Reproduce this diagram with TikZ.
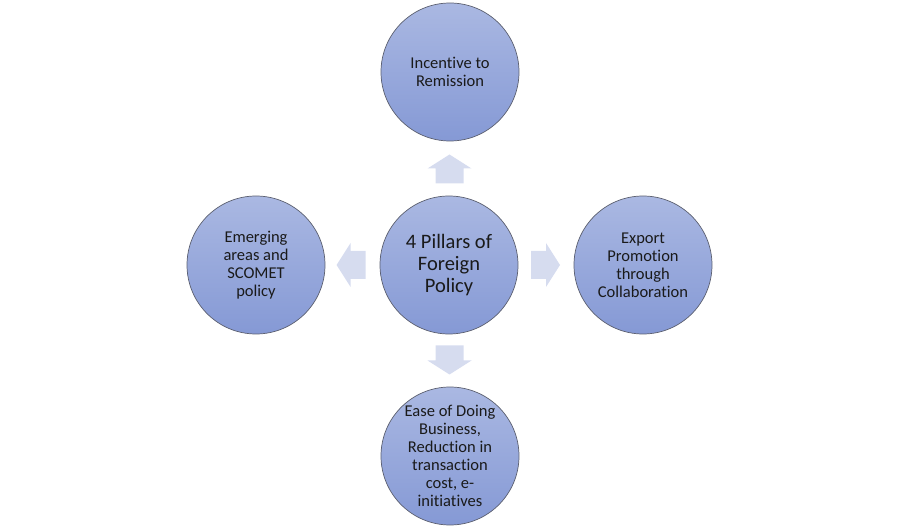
\documentclass[tikz,border=0pt]{standalone}
\usepackage{fontspec}
\setmainfont[Ligatures={NoCommon}]{Carlito}
\usepackage{xcolor}
\usepackage{tikz}
\usetikzlibrary{calc}
\definecolor{pillartop}{HTML}{AAB8E2}
\definecolor{pillarbottom}{HTML}{8599D5}
\definecolor{pillarline}{HTML}{5C6070}
\definecolor{arrowfill}{HTML}{D6DCEF}
\definecolor{pillartext}{HTML}{1A1A1A}

\tikzset{
    blockarrow/.pic={
        \fill[arrowfill] (-15,-14) -- (0,-14) -- (0,-22) -- (14,0) -- (0,22) -- (0,14) -- (-15,14) -- cycle;
    }
}

\begin{document}
\begin{tikzpicture}[x=1pt, y=-1pt,
    pillar/.style={circle, draw=pillarline, line width=0.7pt, top color=pillartop, bottom color=pillarbottom, minimum size=138pt, inner sep=0pt, align=center, text=pillartext, font=\fontsize{16.5}{18}\selectfont}]
    \useasboundingbox (0,0) rectangle (900,529);

    % Centre circle
    \node[pillar, font=\fontsize{20.5}{22}\selectfont] (hub) at (449,265) {4 Pillars of\\Foreign\\Policy};

    % Four pillars round it
    \node[pillar] (top) at (450,72) {Incentive to\\Remission};
    \node[pillar] (left) at (256,265) {Emerging\\areas and\\SCOMET\\policy};
    \node[pillar] (right) at (643,265) {Export\\Promotion\\through\\Collaboration};
    \node[pillar] (bottom) at (450,456) {Ease of Doing\\Business,\\Reduction in\\transaction\\cost, e-\\initiatives};

    % Block arrows between the circles
    \coordinate (aup) at ($(hub)!0.5!(top)$);
    \coordinate (aleft) at ($(hub)!0.51!(left)$);
    \coordinate (aright) at ($(hub)!0.5!(right)$);
    \coordinate (adown) at ($(hub)!0.5!(bottom)$);
    \pic[rotate=90] at (aup) {blockarrow};
    \pic[rotate=180] at (aleft) {blockarrow};
    \pic at (aright) {blockarrow};
    \pic[rotate=270] at (adown) {blockarrow};
\end{tikzpicture}
\end{document}
